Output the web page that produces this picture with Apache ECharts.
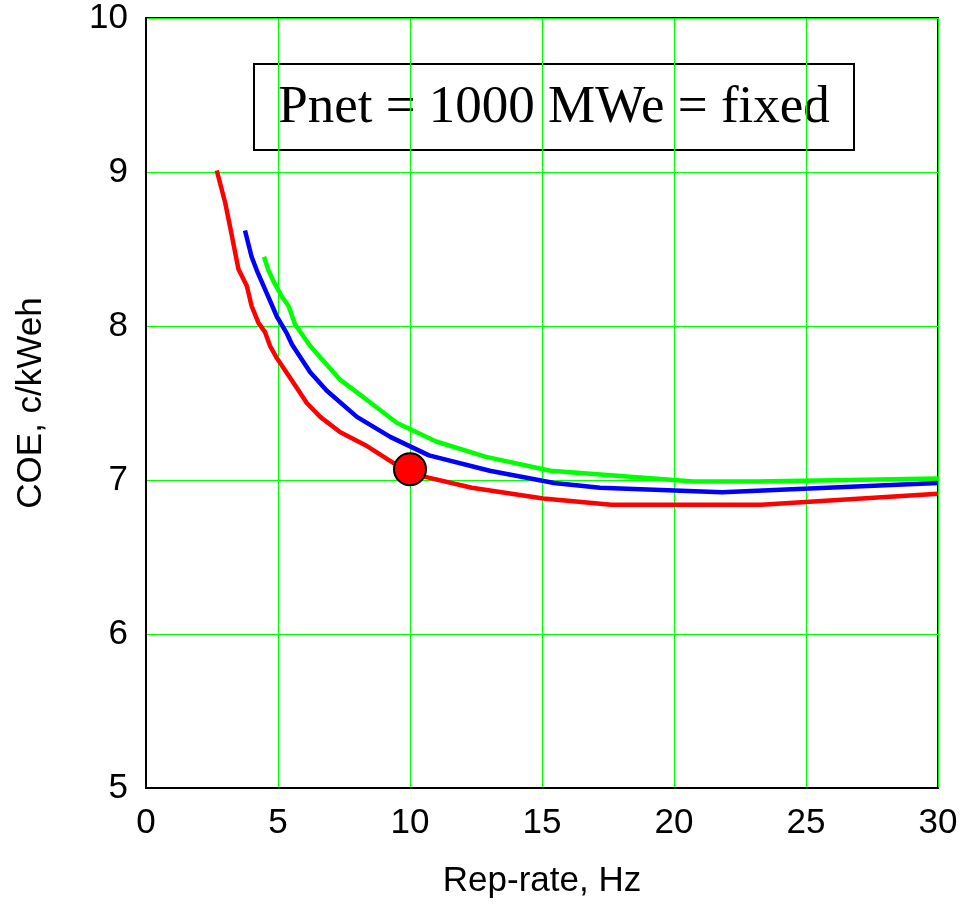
<!DOCTYPE html>
<html>
<head>
<meta charset="UTF-8">
<title>COE vs rep-rate</title>
<style>
    html,body{padding:0; margin:0; background:#fff;}
    #main{width:966px; height:912px;}
</style>
<script src="https://cdn.jsdelivr.net/npm/echarts@6/dist/echarts.min.js"></script>
</head>
<body>
<div id="main"></div>
<script type="text/javascript">
    // curves: [rep-rate Hz, COE c/kWeh]
    var redLine = [[2.68,9.01],[3.0,8.80],[3.19,8.64],[3.5,8.37],[3.82,8.26],[4.0,8.13],[4.26,8.02],[4.51,7.96],
        [4.7,7.87],[4.96,7.79],[5.59,7.63],[6.09,7.5],[6.6,7.41],[7.36,7.31],[8.37,7.22],[9.38,7.11],
        [10.58,7.02],[12.34,6.95],[15.05,6.88],[17.62,6.84],[23.31,6.84],[30,6.91]];
    var blueLine = [[3.75,8.62],[4.0,8.45],[4.2,8.36],[4.58,8.21],[4.96,8.06],[5.34,7.95],[5.53,7.88],[6.22,7.70],
        [6.85,7.58],[7.99,7.41],[9.25,7.28],[10.72,7.16],[13.02,7.06],[15.46,6.98],[17.2,6.95],[21.82,6.92],[30,6.98]];
    var greenLine = [[4.47,8.45],[4.64,8.36],[4.83,8.29],[5.15,8.19],[5.4,8.13],[5.65,8.01],[6.22,7.87],[7.36,7.65],
        [8.37,7.52],[9.51,7.37],[10.99,7.25],[12.88,7.15],[15.32,7.06],[20.74,6.99],[23.17,6.99],[30,7.01]];
    var designPoint = [[10,7.07]];
    var titleText = 'Pnet = 1000 MWe = fixed';

    var myChart = echarts.init(document.getElementById('main'));
    var sans = '"Liberation Sans", Arial';

    var option = {
        animation: false,
        grid: {
            left: 146, right: 28, top: 18, bottom: 124,
            show: true, borderColor: '#000', borderWidth: 2, backgroundColor: 'transparent'
        },
        xAxis: {
            type: 'value', min: 0, max: 30, interval: 5,
            name: 'Rep-rate, Hz', nameLocation: 'middle', nameGap: 76,
            nameTextStyle: {fontFamily: sans, fontSize: 35, color: '#000'},
            axisLine: {show: true, onZero: false, lineStyle: {color: '#000', width: 2}},
            axisTick: {show: false},
            axisLabel: {fontFamily: sans, fontSize: 35, color: '#000', margin: 18},
            splitLine: {show: true, lineStyle: {color: '#00ff00', width: 1}}
        },
        yAxis: {
            type: 'value', min: 5, max: 10, interval: 1,
            name: 'COE, c/kWeh', nameLocation: 'middle', nameGap: 97,
            nameTextStyle: {fontFamily: sans, fontSize: 35, color: '#000'},
            axisLine: {show: true, onZero: false, lineStyle: {color: '#000', width: 2}},
            axisTick: {show: false},
            axisLabel: {fontFamily: sans, fontSize: 35, color: '#000', margin: 18},
            splitLine: {show: true, lineStyle: {color: '#00ff00', width: 1}}
        },
        graphic: [{
            type: 'group', left: 253, top: 63, z: 10,
            children: [{
                type: 'rect', shape: {x: 0, y: 0, width: 600, height: 86},
                style: {fill: '#fff', stroke: '#000', lineWidth: 2}
            }, {
                type: 'text', x: 300, y: 44,
                style: {
                    text: titleText, fill: '#000', align: 'center', verticalAlign: 'middle',
                    font: '53px "Liberation Serif", "Times New Roman", serif'
                }
            }]
        }],
        series: [
            {type: 'line', data: greenLine, showSymbol: false, lineStyle: {color: '#00ff00', width: 4.5}, z: 3},
            {type: 'line', data: blueLine, showSymbol: false, lineStyle: {color: '#0000ff', width: 4.5}, z: 4},
            {type: 'line', data: redLine, showSymbol: false, lineStyle: {color: '#ff0000', width: 4.5}, z: 5},
            {type: 'scatter', data: designPoint, symbolSize: 32, z: 6,
                itemStyle: {color: '#ff0000', borderColor: '#000', borderWidth: 2, opacity: 1}}
        ]
    };
    myChart.setOption(option);
</script>
</body>
</html>
